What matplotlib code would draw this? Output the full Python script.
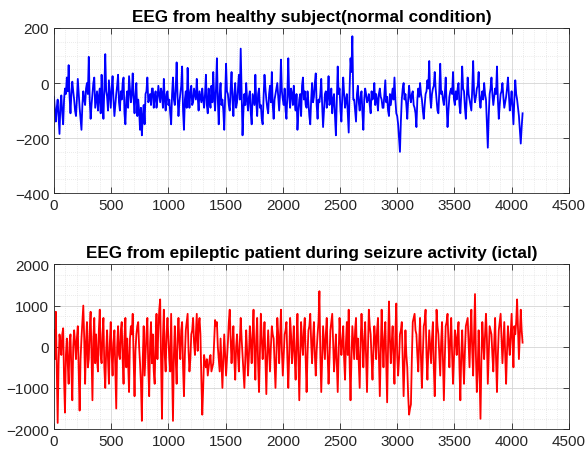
import matplotlib.pyplot as plt
import numpy as np
from matplotlib.ticker import MultipleLocator

plt.rcParams["font.family"] = ["Liberation Sans", "DejaVu Sans"]

# samples: the "main" lists hold one value every 16
# samples (0 .. 4096), the "mid" lists the value halfway between two of them
step = 8

healthy_main = [
    -50, -140, -60, -185, -45, -150, -20, 20, 65, -110, 5, -60, -120, 15, -90, -170,
    -30, -80, 0, 95, -130, -40, 20, -60, -100, -20, 30, -130, 105, -50, 10, -90,
    25, -120, -40, 30, -100, -60, 20, -150, -30, 25, -70, 35, -110, 0, -60, -170,
    -190, -80, -40, 20, -60, -80, -20, -50, -90, -10, -70, -40, 15, -100, -30, -60,
    -150, 20, -80, 75, -120, -40, 60, -170, -30, 55, -90, -10, -70, -40, 15, -100,
    -50, -20, -90, 30, -110, -60, -10, 40, -100, 90, -150, 0, -60, -170, 70, -40,
    -100, 40, -120, 0, -70, 30, 125, -190, -40, 0, -100, -30, -150, -60, 30, -120,
    -20, -80, -150, 30, -60, -110, -10, 40, -130, -40, 0, -100, 85, -60, -20, -130,
    90, -90, -40, -10, -100, -170, -60, -120, 20, -30, -90, -70, -150, 0, -50, 35,
    -130, -70, 15, -160, -40, -90, 25, -60, -110, -40, -190, 60, -20, -140, 20, -90,
    -40, -180, 90, 170, -60, -140, -10, -100, -30, -170, -20, -70, -40, -110, -60, 0,
    -40, -100, -20, -60, -90, 10, -50, -120, -80, -20, 20, -110, -150, -250, -60, 0,
    -40, -130, -10, -70, -30, -90, -160, -20, 0, -60, -130, -40, 10, 80, -90, -20,
    40, -60, -110, 70, -30, -80, 20, -160, -50, -20, 40, -80, -60, 0, -110, 60,
    -30, -130, 20, -60, -100, 80, -70, -20, 40, -90, -30, 0, -60, -235, -40, 20,
    -80, -20, 60, -130, -40, 0, -90, -50, 20, -100, -30, -150, 10, -60, -120, -220,
    -110,
]

healthy_mid = [
    -100, -90, -120, -80, -110, -60, -40, -30, -50, -40, -30, -100, -60, -40, -130, -80,
    -60, -20, -40, -60, -80, 0, -90, -30, -50, -110, -60, -20, -30, -100, -40, -20,
    -60, -80, -10, -70, -30, 0, -110, -60, -90, -20, -40, -60, -40, -120, -100, -90,
    -120, -150, -30, -70, -40, -20, -90, -30, -60, -40, -20, -90, -60, -40, -80, -110,
    -40, -60, -20, -50, -70, -10, -100, -60, -90, -40, -30, -80, -20, -60, -50, -30,
    -70, -60, -40, -80, -20, -90, -70, -50, -20, -60, -40, -80, -100, -50, -30, -80,
    -20, -60, -40, -90, -20, -60, -40, -100, -80, -60, -50, -110, -40, -80, -70, -40,
    -90, -130, -50, -20, -90, -40, -70, -80, -60, -20, -50, -40, -30, -80, -100, -40,
    -50, -20, -80, -70, -40, -110, -40, -10, -60, -80, -30, -120, -60, -70, 0, -80,
    -60, -40, -80, -100, -30, -50, -80, -20, -60, -120, -70, -40, -100, -50, -40, -60,
    -110, -20, 40, -60, -100, -40, -70, -50, -110, -60, -40, -60, -80, -30, -50, -80,
    -60, -40, -50, -90, -40, -70, -100, -40, -50, -60, -60, -120, -200, -140, -20, -60,
    -80, -60, -50, -40, -80, -110, -60, -50, -40, -100, -80, -30, -20, -50, -40, -10,
    -20, -100, -30, -40, -60, -40, -80, -100, -30, -40, -60, -30, -20, -80, -40, -20,
    -90, -50, -40, -80, -20, -40, -50, -10, -60, -50, -60, -40, -150, -120, -20, -40,
    -50, -40, -60, -80, -30, -50, -70, -20, -40, -70, -90, -60, -40, -90, -170, -160,
]

ictal_main = [
    400, 850, -1850, 300, -200, 450, -1600, 200, -900, 300, -1300, 400, -300, 500, -1550, 200,
    1000, -900, 600, -300, 850, -1300, 700, 300, -600, 900, -400, 700, -1000, 400, -900, 600,
    -700, 400, -1500, 500, -300, 600, -900, 700, 200, -1100, 500, 800, -1200, 300, 600, -400,
    -1800, 500, -200, 700, -1200, 600, 300, -900, 800, 400, 1150, -1750, 900, -600, 700, -300,
    800, -1800, 500, -900, 700, -300, 600, -1200, 400, 800, -600, 300, 700, -200, 800, 500,
    300, -1650, -200, -500, -700, -300, -600, -400, 650, 600, -300, 200, -1000, 300, -700, 100,
    900, -400, 500, -800, 300, -600, 700, -200, -1000, 400, -700, 500, -400, 900, -800, 700,
    -1100, 800, -300, 600, -1150, 400, -600, 500, 200, -1000, 700, -400, 900, -700, 300, 600,
    -1000, 700, -400, 500, -800, 800, -1300, 600, -200, 700, -1100, 400, 800, -400, 600, -700,
    300, 1350, -1100, 500, -300, 700, -900, 400, 800, -600, 300, -1100, 700, -200, 500, -800,
    600, 900, -1300, 500, -300, 700, 200, -1000, 800, -500, 600, -1100, 900, 300, -800, 500,
    -300, 700, -1200, 900, -500, 600, -1350, 1100, -400, 500, -900, 1050, -700, 300, 600, -1200,
    400, -500, -1650, -1400, 600, 800, 300, -600, 700, -1000, 500, 900, -800, 400, -400, 600,
    -1200, 900, 300, -700, 600, -1300, 500, 800, -500, 700, -900, 400, -200, 600, -1300, 400,
    -900, 500, 700, -500, 900, -700, 1280, -1100, 400, -1750, 600, -300, 800, -900, 500, 300,
    -600, 700, -1100, 400, 800, -400, 600, -900, 500, -200, 800, -500, 300, 1150, -300, 900,
    100,
]

ictal_mid = [
    -300, -500, -400, 100, 300, -800, -200, -400, 100, -600, 0, 100, 200, -600, -300, 600,
    200, 100, -500, 400, -200, 200, -400, -300, 400, -200, 300, -500, -100, -300, 100, -200,
    100, -600, 0, -200, 400, -300, 200, -500, -400, 200, 300, -300, -100, 500, 0, -900,
    -300, -700, 300, -500, 100, -400, -600, 200, -300, 900, -400, 200, -200, 300, 200, -600,
    -500, -200, -300, 200, 100, 400, -500, -200, 600, -100, -300, 400, 100, 300, -100, 700,
    -800, -1000, -400, -300, -500, -200, -500, 100, 500, 0, -600, -400, -300, -200, -300, 600,
    200, 100, -300, 0, -200, 100, 200, -600, -300, -100, -200, 100, 300, -200, 200, -400,
    -100, 200, 100, -300, -200, -100, 0, 300, -400, -200, 300, 200, -100, -200, 400, -300,
    -200, 300, 0, -300, 100, -300, -200, 100, 400, -300, -200, 500, 100, 200, -200, -100,
    600, -200, -300, 100, 300, -200, -300, 600, 100, -200, -400, -200, 200, 100, -300, 100,
    -200, -400, -300, 100, 400, -300, -400, 100, 200, 100, -300, -100, 500, -300, -100, 200,
    400, -300, -200, 100, 200, -400, 0, 200, 100, -300, 300, -200, -300, 400, -300, -400,
    -200, -1200, -1500, -300, 700, 400, -200, 100, -300, -200, 600, -200, -100, 0, 200, -500,
    -300, 500, -200, 100, -400, -300, 600, 100, 200, -200, -300, 200, 300, -500, -200, -300,
    -100, 600, 100, 300, -100, 300, -200, -500, -700, -300, 100, 300, 200, -200, 400, -200,
    100, -300, -200, 600, 200, 100, -200, -100, 100, 300, 100, 500, 600, 400, 300, 400,
]

titles = [
    "EEG from healthy subject(normal condition)",
    "EEG from epileptic patient during seizure activity (ictal)",
]


def merge(main, mid):
    out = []
    for i, v in enumerate(main):
        out.append(v)
        if i < len(mid) and i < len(main) - 1:
            out.append(mid[i])
    return np.array(out, dtype=float)


def style(ax, ymin, ymax, ymajor, yminor):
    ax.set_xlim(0, 4500)
    ax.set_ylim(ymin, ymax)
    ax.xaxis.set_major_locator(MultipleLocator(500))
    ax.xaxis.set_minor_locator(MultipleLocator(100))
    ax.yaxis.set_major_locator(MultipleLocator(ymajor))
    ax.yaxis.set_minor_locator(MultipleLocator(yminor))
    ax.grid(which="major", color="#d4d4d4", linewidth=0.6, linestyle="-")
    ax.grid(which="minor", color="#d8d8d8", linewidth=0.5, linestyle=(0, (1, 2)))
    ax.set_axisbelow(True)
    ax.tick_params(which="both", direction="in", top=True, right=True,
                   labelsize=11, colors="#262626", width=0.6)
    ax.tick_params(which="major", length=4)
    ax.tick_params(which="minor", length=0)
    for s in ax.spines.values():
        s.set_linewidth(0.6)
        s.set_color("#262626")


fig = plt.figure(figsize=(5.87, 4.60), dpi=100)
ax1 = fig.add_axes([0.092, 0.578, 0.877, 0.359])
ax2 = fig.add_axes([0.092, 0.065, 0.877, 0.358])

healthy = merge(healthy_main, healthy_mid)
ax1.plot(np.arange(len(healthy)) * step, healthy, color="#0000ff", linewidth=1.3)
style(ax1, -400, 200, 200, 50)
ax1.set_title(titles[0], fontsize=12.3, fontweight="bold", pad=5)

ictal = merge(ictal_main, ictal_mid)
ax2.plot(np.arange(len(ictal)) * step, ictal, color="#ff0000", linewidth=1.3)
style(ax2, -2000, 2000, 1000, 250)
ax2.set_title(titles[1], fontsize=12.3, fontweight="bold", pad=5)

fig.savefig("out.png", dpi=100)
